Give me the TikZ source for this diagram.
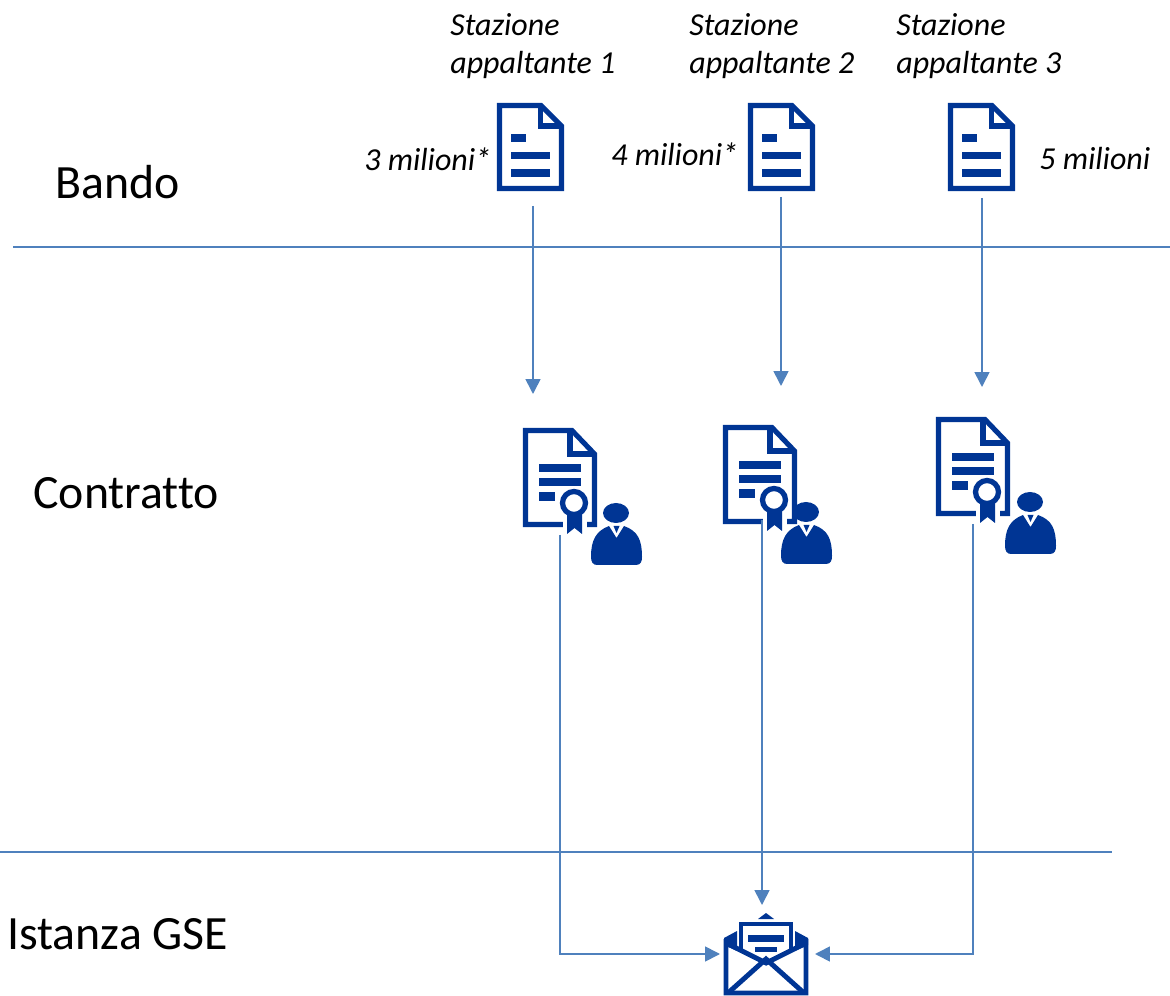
\documentclass[tikz,border=0pt]{standalone}
\usepackage{fontspec}
\setmainfont[Ligatures=NoCommon]{Carlito}
\usepackage{tikz}
\usetikzlibrary{arrows.meta}
\definecolor{iconblue}{HTML}{003594}
\definecolor{lineblue}{HTML}{4F81BD}
\tikzset{
    rowlabel/.style={anchor=west, inner sep=0pt, font=\fontsize{27.2}{32}\selectfont},
    smalllabel/.style={anchor=west, inner sep=0pt, align=left, font=\fontsize{18.2}{22}\selectfont\itshape},
    conn/.style={-{Triangle[length=8.5pt,width=8.5pt]}, lineblue, line width=0.95pt},
    rowline/.style={-, lineblue, line width=0.95pt},
    iconline/.style={iconblue, line width=2.9pt, line join=miter},
    bandodoc/.pic={
        \fill[white] (2,2) -- (44,2) -- (65,23) -- (65,86) -- (2,86) -- cycle;
        \draw[iconline] (2.5,2.5) -- (44,2.5) -- (64.5,23) -- (64.5,85.5) -- (2.5,85.5) -- cycle;
        \draw[iconline] (43.5,2.5) -- (43.5,23) -- (64.5,23);
        \fill[iconblue] (14,31) rectangle (29,39);
        \fill[iconblue] (14,49) rectangle (53,56);
        \fill[iconblue] (14,66) rectangle (53,74);
    },
    contrattodoc/.pic={
        \fill[white] (2,2) -- (49,2) -- (72,25) -- (72,97) -- (2,97) -- cycle;
        \draw[iconline] (2.5,2.5) -- (49,2.5) -- (71.5,26) -- (71.5,96.5) -- (2.5,96.5) -- cycle;
        \draw[iconline] (47,2.5) -- (47,26) -- (71.5,26);
        \fill[iconblue] (16,36) rectangle (58,44);
        \fill[iconblue] (16,50) rectangle (58,58);
        \fill[iconblue] (16,64) rectangle (32,73);
        \fill[white] (40,90) rectangle (64,100);
        \fill[iconblue] (44,85) -- (44,106) -- (51.5,100) -- (59,106) -- (59,85) -- cycle;
        \draw[iconblue, fill=white, line width=3pt] (51,75) circle (11.5);
    },
    persona/.pic={
        \fill[iconblue] (6,0) -- (45,0) .. controls (50,0) and (51,-4) .. (51,-8)
            .. controls (51,-25) and (47,-34) .. (33,-39) -- (25.5,-27) -- (18,-39)
            .. controls (5,-34) and (0,-25) .. (0,-8) .. controls (0,-3) and (2,0) .. (6,0) -- cycle;
        \fill[iconblue] (22.5,-39) -- (28.5,-39) -- (25.5,-32) -- cycle;
        \fill[iconblue] (25,-52) ellipse (13 and 10);
    },
    busta/.pic={
        % lettera
        \fill[iconblue] (34,6) -- (42,0) -- (50,6) -- cycle;
        \draw[iconblue, line width=2.5pt] (17,36) -- (17,11) -- (67,11) -- (67,36);
        \fill[iconblue] (24,22) rectangle (60,29);
        \fill[iconblue] (31,34) rectangle (53,39);
        % lembi laterali
        \fill[iconblue] (0,25) -- (13,18) -- (13,38) -- (0,32) -- cycle;
        \fill[iconblue] (84,25) -- (71,18) -- (71,38) -- (84,32) -- cycle;
        % corpo
        \draw[iconblue, line width=2.8pt, line join=miter] (2,30) -- (2,80) -- (82,80) -- (82,30) -- (42,50) -- cycle;
        \draw[iconblue, line width=2.8pt] (4,80) -- (42,46) -- (80,80);
    },
}
\begin{document}
\begin{tikzpicture}[x=0.02cm, y=-0.02cm]
    \useasboundingbox (0,0) rectangle (1170,996);

    % righe
    \coordinate (rigaAs) at (13,247);
    \coordinate (rigaAe) at (1170,247);
    \coordinate (rigaBs) at (0,852);
    \coordinate (rigaBe) at (1112,852);
    \draw[rowline] (rigaAs) -- (rigaAe);
    \draw[rowline] (rigaBs) -- (rigaBe);

    \node[rowlabel] (bando) at (55,182) {Bando};
    \node[rowlabel] (contratto) at (33,493) {Contratto};
    \node[rowlabel] (istanza) at (7,934) {Istanza GSE};

    \foreach \i/\xs/\xd in {1/450/497, 2/689/748, 3/896/948} {
        \node[smalllabel] (stazione\i) at (\xs,46) {Stazione\\appaltante \i};
        \pic at (\xd,103) {bandodoc};
    }
    \node[smalllabel] (importo1) at (364,159) {3 milioni*};
    \node[smalllabel] (importo2) at (611,154) {4 milioni*};
    \node[smalllabel] (importo3) at (1039,159) {5 milioni};

    \pic at (523,428) {contrattodoc};
    \pic at (723,425) {contrattodoc};
    \pic at (936,417) {contrattodoc};
    \pic at (591,565) {persona};
    \pic at (781,564) {persona};
    \pic at (1005,554) {persona};
    \pic at (724,913) {busta};

    \foreach \i/\xa/\ya/\yb/\xc/\yc in {1/533/206/394/560/535, 2/781/197/386/762/520, 3/982/198/387/973/524} {
        \coordinate (bandoout\i) at (\xa,\ya);
        \coordinate (contrattoin\i) at (\xa,\yb);
        \coordinate (contrattoout\i) at (\xc,\yc);
        \draw[conn] (bandoout\i) -- (contrattoin\i);
    }
    \coordinate (bustaL) at (720,954);
    \coordinate (bustaT) at (762,905);
    \coordinate (bustaR) at (815,954);
    \draw[conn] (contrattoout1) |- (bustaL);
    \draw[conn] (contrattoout2) -- (bustaT);
    \draw[conn] (contrattoout3) |- (bustaR);
\end{tikzpicture}
\end{document}
